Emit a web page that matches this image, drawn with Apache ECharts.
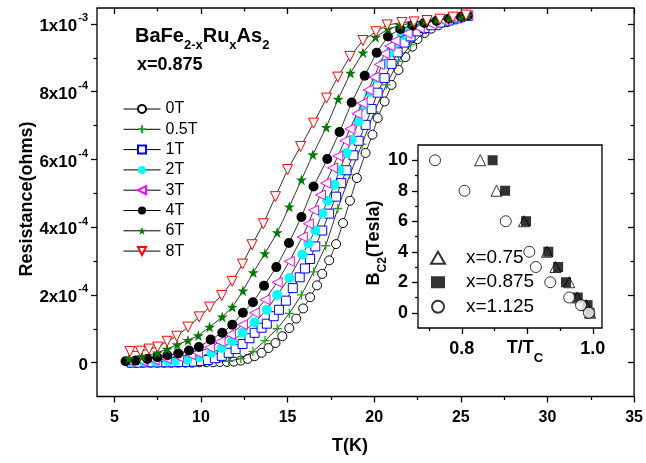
<!DOCTYPE html>
<html><head><meta charset="utf-8">
<script src="https://cdn.jsdelivr.net/npm/echarts@6/dist/echarts.min.js"></script>
<style>html,body{margin:0;padding:0;background:#fff}#c{width:646px;height:463px}</style>
</head><body><div id="c"></div>
<script>
// Resistance values are in units of 1e-3 ohms; temperature in K.
const fieldNames = ['0T','0.5T','1T','2T','3T','4T','6T','8T'];
const data_0T = [[5.9,0],[6.3,0],[6.7,0],[7.1,0],[7.5,0],[7.9,0],[8.3,0],[8.7,0],[9.1,0],[9.5,0],[9.9,0.001],[10.3,0.001],[10.7,0.001],[11.1,0.002],[11.5,0.002],[11.9,0.003],[12.3,0.006],[12.7,0.011],[13.1,0.019],[13.5,0.029],[13.9,0.043],[14.3,0.058],[14.7,0.078],[15.1,0.102],[15.5,0.130],[15.9,0.160],[16.3,0.193],[16.7,0.228],[17.0,0.262],[17.4,0.302],[17.8,0.350],[18.2,0.412],[18.6,0.478],[19.0,0.545],[19.5,0.619],[19.9,0.673],[20.2,0.722],[20.6,0.771],[21.0,0.820],[21.4,0.864],[21.8,0.902],[22.2,0.933],[22.5,0.955],[22.9,0.973],[23.3,0.986],[23.7,0.996],[24.2,1.005],[24.7,1.013],[25.1,1.019],[25.4,1.024]];
const data_05T = [[6.0,0],[6.7,0],[7.4,0],[8.1,0],[8.8,0],[9.5,0.001],[10.2,0.001],[10.9,0.002],[11.6,0.004],[12.3,0.012],[13.0,0.033],[13.7,0.065],[14.4,0.100],[15.1,0.145],[15.8,0.200],[16.5,0.268],[17.2,0.345],[17.9,0.455],[18.6,0.555],[19.3,0.645],[20.0,0.740],[20.7,0.820],[21.4,0.890],[22.1,0.938],[22.8,0.972],[23.5,0.993],[24.2,1.006],[24.9,1.017],[25.4,1.024]];
const data_1T = [[6.0,0],[6.4,0],[6.8,0.001],[7.2,0.001],[7.6,0.001],[8.0,0.001],[8.4,0.001],[8.8,0.002],[9.2,0.002],[9.6,0.003],[10.0,0.005],[10.4,0.008],[10.8,0.013],[11.2,0.020],[11.6,0.029],[12.0,0.040],[12.4,0.055],[12.8,0.072],[13.1,0.088],[13.5,0.103],[13.8,0.115],[14.2,0.137],[14.5,0.156],[14.9,0.183],[15.3,0.220],[15.7,0.252],[16.0,0.278],[16.3,0.306],[16.6,0.343],[17.0,0.390],[17.4,0.440],[17.8,0.490],[18.1,0.530],[18.4,0.568],[18.8,0.612],[19.1,0.655],[19.5,0.702],[19.85,0.749],[20.2,0.797],[20.6,0.840],[21.0,0.882],[21.35,0.916],[21.75,0.945],[22.1,0.963],[22.5,0.978],[22.9,0.988],[23.3,0.996],[23.8,1.004],[24.3,1.010],[24.8,1.017],[25.4,1.024]];
const data_2T = [[6.0,0.002],[6.7,0.003],[7.4,0.003],[8.1,0.004],[8.5,0.005],[9.2,0.008],[9.9,0.016],[10.6,0.029],[11.2,0.043],[11.8,0.063],[12.4,0.088],[13.1,0.119],[13.8,0.156],[14.4,0.200],[15.1,0.250],[15.85,0.319],[16.2,0.352],[16.6,0.390],[17.0,0.440],[17.3,0.478],[17.7,0.525],[18.0,0.568],[18.4,0.619],[18.7,0.658],[19.1,0.712],[19.4,0.760],[19.75,0.799],[20.1,0.840],[20.5,0.882],[20.85,0.914],[21.2,0.943],[21.6,0.966],[22.0,0.980],[22.7,0.993],[23.4,1.003],[24.1,1.011],[24.8,1.018],[25.4,1.024]];
const data_3T = [[5.9,0.003],[6.6,0.005],[7.3,0.008],[8.0,0.012],[8.7,0.017],[9.4,0.023],[9.8,0.029],[10.5,0.045],[11.1,0.062],[11.7,0.083],[12.4,0.112],[13.1,0.147],[13.7,0.186],[14.4,0.237],[15.1,0.299],[15.85,0.371],[16.2,0.41],[16.5,0.45],[16.9,0.495],[17.2,0.53],[17.6,0.575],[17.9,0.61],[18.3,0.655],[18.6,0.69],[19.0,0.735],[19.3,0.766],[19.65,0.805],[20.0,0.843],[20.3,0.880],[20.6,0.912],[20.9,0.935],[21.2,0.950],[21.9,0.972],[22.6,0.988],[23.3,1.000],[24.0,1.009],[24.7,1.017],[25.4,1.024]];
const data_4T = [[5.65,0.004],[6.23,0.006],[6.9,0.011],[7.48,0.016],[8.06,0.022],[8.69,0.027],[9.31,0.036],[9.88,0.046],[10.56,0.068],[11.23,0.088],[11.81,0.112],[12.42,0.147],[13.0,0.178],[13.64,0.227],[14.35,0.282],[15.08,0.353],[15.8,0.43],[16.5,0.52],[17.29,0.601],[18.0,0.681],[18.7,0.768],[19.45,0.847],[20.14,0.915],[20.79,0.963],[21.5,0.985],[22.2,0.996],[22.9,1.003],[23.6,1.009],[24.3,1.015],[25.0,1.021],[25.4,1.024]];
const data_6T = [[5.85,0.012],[6.6,0.018],[7.48,0.029],[8.05,0.040],[8.63,0.053],[9.25,0.066],[9.85,0.080],[10.5,0.105],[11.23,0.135],[11.81,0.164],[12.42,0.212],[13.02,0.266],[13.69,0.322],[14.4,0.384],[15.1,0.46],[15.8,0.54],[16.46,0.614],[17.23,0.695],[17.92,0.778],[18.63,0.855],[19.35,0.915],[20.08,0.961],[20.8,0.985],[21.5,0.996],[22.2,1.003],[22.9,1.008],[23.6,1.012],[24.3,1.016],[25.0,1.021],[25.4,1.025]];
const data_8T = [[5.9,0.033],[6.5,0.034],[7.0,0.040],[7.5,0.046],[8.05,0.063],[8.6,0.078],[9.25,0.105],[9.9,0.135],[10.5,0.164],[11.2,0.198],[11.8,0.240],[12.4,0.291],[12.95,0.348],[13.6,0.41],[14.3,0.49],[15.0,0.57],[15.75,0.638],[16.5,0.707],[17.25,0.781],[17.9,0.843],[18.6,0.904],[19.35,0.951],[20.1,0.977],[20.75,0.997],[21.6,1.004],[22.3,1.006],[23.05,1.010],[23.8,1.014],[24.55,1.020],[25.3,1.026]];

// Inset: Bc2 (Tesla) vs T/Tc
const insetNames = ['x=0.75','x=0.875','x=1.125'];
const inset_075 = [[0.828,10],[0.853,8],[0.895,6],[0.930,4],[0.943,3],[0.964,2],[0.976,1],[0.990,0.5],[0.996,0]];
const inset_0875 = [[0.847,10],[0.866,8],[0.898,6],[0.932,4],[0.947,3],[0.959,2],[0.977,1],[0.992,0.5],[0.995,0]];
const inset_1125 = [[0.759,10],[0.804,8],[0.867,6],[0.903,4],[0.913,3],[0.935,2],[0.964,1],[0.982,0.5],[0.994,0]];

// tick values
const xMajor = [5,10,15,20,25,30,35];
const xMinor = [7.5,12.5,17.5,22.5,27.5,32.5];
const yMajor = [0,0.2,0.4,0.6,0.8,1.0];
const yMinor = [0.1,0.3,0.5,0.7,0.9];
const ixMajor = [0.8,0.9,1.0];
const ixLabels = [0.8,1.0];
const ixMinor = [0.75,0.85,0.95];
const iyMajor = [0,2,4,6,8,10];
const iyMinor = [1,3,5,7,9];

const FONT = 'Liberation Sans, Arial, sans-serif';
const LW = 1.3;

function ax(o) {
  return {
    type: 'value', gridIndex: o.grid, position: o.pos, min: o.min, max: o.max,
    splitLine: {show: false},
    axisLine: {show: false, onZero: false},
    axisTick: {show: true, inside: !!o.inside, length: o.len, customValues: o.ticks, lineStyle: {color: '#000', width: LW}},
    axisLabel: o.labels ? Object.assign({show: true, customValues: o.labels, color: '#000', fontFamily: FONT, fontWeight: 'bold', fontSize: o.fs, margin: o.margin}, o.labelExtra || {}) : {show: false}
  };
}

const xAxes = [
  ax({grid:0,pos:'bottom',min:4,max:35,len:6,ticks:xMajor,labels:xMajor,fs:16,margin:13}),
  ax({grid:0,pos:'bottom',min:4,max:35,len:3.5,ticks:xMinor}),
  ax({grid:0,pos:'top',min:4,max:35,inside:true,len:6,ticks:xMajor}),
  ax({grid:0,pos:'top',min:4,max:35,inside:true,len:3.5,ticks:xMinor}),
  ax({grid:1,pos:'bottom',min:0.733,max:1.014,len:6,ticks:ixMajor,labels:ixLabels,fs:18,margin:12,
      labelExtra:{formatter:function(v){return v.toFixed(1);}}}),
  ax({grid:1,pos:'bottom',min:0.733,max:1.014,len:3,ticks:ixMinor}),
  ax({grid:1,pos:'top',min:0.733,max:1.014,inside:true,len:6,ticks:ixMajor}),
  ax({grid:1,pos:'top',min:0.733,max:1.014,inside:true,len:3,ticks:ixMinor})
];
const yFmt = function (v) {
  if (Math.abs(v) < 1e-9) return '{a|0}';
  if (Math.abs(v - 1) < 1e-9) return '{a|1x10}{s|-3}';
  return '{a|' + Math.round(v * 10) + 'x10}{s|-4}';
};
const yRich = {
  a: {fontFamily: FONT, fontWeight: 'bold', fontSize: 17, lineHeight: 22, verticalAlign: 'bottom', color: '#000'},
  s: {fontFamily: FONT, fontWeight: 'bold', fontSize: 11, lineHeight: 22, verticalAlign: 'top', color: '#000', padding: [0,0,0,1]}
};
const yAxes = [
  ax({grid:0,pos:'left',min:-0.1,max:1.047,len:6,ticks:yMajor,labels:yMajor,fs:17,margin:9,labelExtra:{formatter:yFmt,rich:yRich}}),
  ax({grid:0,pos:'left',min:-0.1,max:1.047,len:3.5,ticks:yMinor}),
  ax({grid:0,pos:'right',min:-0.1,max:1.047,inside:true,len:6,ticks:yMajor}),
  ax({grid:0,pos:'right',min:-0.1,max:1.047,inside:true,len:3.5,ticks:yMinor}),
  ax({grid:1,pos:'left',min:-1,max:11,len:6,ticks:iyMajor,labels:iyMajor,fs:18,margin:10}),
  ax({grid:1,pos:'left',min:-1,max:11,len:3,ticks:iyMinor}),
  ax({grid:1,pos:'right',min:-1,max:11,inside:true,len:6,ticks:iyMajor}),
  ax({grid:1,pos:'right',min:-1,max:11,inside:true,len:3,ticks:iyMinor})
];

const SYM = {
  plus: 'path://M0,5L10,5M5,0L5,10',
  left: 'path://M0,5L10,0L10,10Z',
  down: 'path://M0,0L10,0L5,10Z',
  star: 'path://M5,0L6.18,3.62L10,3.62L6.91,5.86L8.09,9.51L5,7.27L1.91,9.51L3.09,5.86L0,3.62L3.82,3.62Z'
};
const mainSets = [data_0T, data_05T, data_1T, data_2T, data_3T, data_4T, data_6T, data_8T];
const mainStyles = [
  {symbol:'circle', size:9, item:{color:'#fff', borderColor:'#000', borderWidth:1}},
  {symbol:SYM.plus, size:9, item:{color:'#2a9a2a', borderColor:'#2a9a2a', borderWidth:1.3}},
  {symbol:'rect', size:9, item:{color:'#fff', borderColor:'#0000ff', borderWidth:1}},
  {symbol:'circle', size:10, item:{color:'#00ffff', borderColor:'#00ffff', borderWidth:0}},
  {symbol:SYM.left, size:10, item:{color:'#fff', borderColor:'#ff00ff', borderWidth:1}},
  {symbol:'circle', size:10, item:{color:'#000', borderColor:'#000', borderWidth:0}},
  {symbol:SYM.star, size:11, item:{color:'#007a00', borderColor:'#007a00', borderWidth:0}},
  {symbol:SYM.down, size:10, item:{color:'#fff', borderColor:'#ff0000', borderWidth:1}}
];
const series = mainSets.map(function (d, i) {
  const st = mainStyles[i];
  return {
    type: 'line', name: fieldNames[i], xAxisIndex: 0, yAxisIndex: 0, data: d,
    symbol: st.symbol, symbolSize: st.size, showSymbol: true, showAllSymbol: true,
    lineStyle: {color: '#000', width: 0.8}, itemStyle: st.item, z: 3 + i, animation: false
  };
});
const insetSets = [inset_075, inset_0875, inset_1125];
const insetStyles = [
  {symbol:'triangle', size:11, item:{color:'#fff', borderColor:'#000', borderWidth:1}},
  {symbol:'rect', size:10, item:{color:'#000', borderColor:'#000', borderWidth:0}},
  {symbol:'circle', size:11, item:{color:'#fff', borderColor:'#000', borderWidth:1}}
];
insetSets.forEach(function (d, i) {
  const st = insetStyles[i];
  series.push({type:'scatter', name: insetNames[i], xAxisIndex: 4, yAxisIndex: 4, data: d,
    symbol: st.symbol, symbolSize: st.size, itemStyle: st.item, z: 20 + i, animation: false});
});

const option = {
  animation: false,
  backgroundColor: '#fff',
  grid: [
    {left: 97, top: 8, width: 539, height: 388.5, show: true, borderColor: '#000', borderWidth: LW, backgroundColor: 'transparent'},
    {left: 418, top: 145, width: 184, height: 183, show: true, backgroundColor: '#fff', borderColor: '#000', borderWidth: LW, z: 10}
  ],
  xAxis: xAxes,
  yAxis: yAxes,
  legend: [
    {data: fieldNames, orient: 'vertical', left: 123, top: 101, padding: 0, itemWidth: 37, itemHeight: 10, itemGap: 4.3,
     lineStyle: {color: '#000', width: 1},
     textStyle: {fontFamily: FONT, fontSize: 16, color: '#000', lineHeight: 16}, selectedMode: false},
    {data: insetNames, orient: 'vertical', left: 430, top: 248, padding: 0, itemWidth: 14, itemHeight: 12, itemGap: 5,
     textStyle: {fontFamily: FONT, fontSize: 19, color: '#000', lineHeight: 19.5, padding: [0,0,0,16]}, selectedMode: false, z: 30}
  ],
  graphic: [
    {type: 'text', left: 135, top: 26, z: 50, style: {
      text: '{b|BaFe}{s|2-x}{b|Ru}{s|x}{b|As}{s|2}',
      rich: {b: {fontFamily: FONT, fontWeight: 'bold', fontSize: 20, lineHeight: 26, verticalAlign: 'top', fill: '#000'},
             s: {fontFamily: FONT, fontWeight: 'bold', fontSize: 13, lineHeight: 26, verticalAlign: 'bottom', fill: '#000'}}}},
    {type: 'text', left: 137, top: 56, z: 50, style: {text: 'x=0.875', fontFamily: FONT, fontWeight: 'bold', fontSize: 18, fill: '#000'}},
    {type: 'text', x: 350, y: 446, z: 50, style: {text: 'T(K)', fontFamily: FONT, fontWeight: 'bold', fontSize: 18, fill: '#000', align: 'center', verticalAlign: 'middle'}},
    {type: 'text', x: 27, y: 199, rotation: Math.PI / 2, z: 50, style: {text: 'Resistance(ohms)', fontFamily: FONT, fontWeight: 'bold', fontSize: 18, fill: '#000', align: 'center', verticalAlign: 'middle'}},
    {type: 'text', x: 377, y: 243, rotation: Math.PI / 2, z: 50, style: {
      text: '{b|B}{s|C2}{b|(Tesla)}', align: 'center', verticalAlign: 'middle',
      rich: {b: {fontFamily: FONT, fontWeight: 'bold', fontSize: 18, lineHeight: 24, verticalAlign: 'top', fill: '#000'},
             s: {fontFamily: FONT, fontWeight: 'bold', fontSize: 12, lineHeight: 24, verticalAlign: 'bottom', fill: '#000'}}}},
    {type: 'text', x: 525, y: 352, z: 50, style: {
      text: '{b|T/T}{s|C}', align: 'center', verticalAlign: 'middle',
      rich: {b: {fontFamily: FONT, fontWeight: 'bold', fontSize: 18, lineHeight: 26, verticalAlign: 'top', fill: '#000'},
             s: {fontFamily: FONT, fontWeight: 'bold', fontSize: 13, lineHeight: 26, verticalAlign: 'bottom', fill: '#000'}}}}
  ],
  series: series
};
const chart = echarts.init(document.getElementById('c'), null, {renderer: 'canvas'});
chart.setOption(option);
</script>
</body></html>
